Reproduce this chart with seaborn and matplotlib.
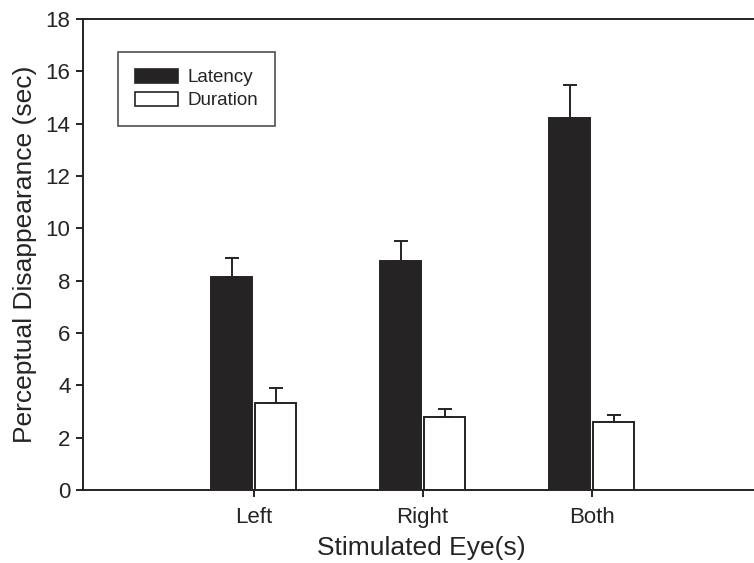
import numpy as np
import pandas as pd
import matplotlib
matplotlib.use("Agg")
import matplotlib.pyplot as plt
import seaborn as sns

# Mean perceptual disappearance times (sec) and their upper error bars
categories = ["Left", "Right", "Both"]
measures = ["Latency", "Duration"]
latency_mean = [8.14, 8.75, 14.21]
latency_err = [0.73, 0.78, 1.28]
duration_mean = [3.34, 2.80, 2.61]
duration_err = [0.55, 0.28, 0.26]

df = pd.DataFrame({
    "eye": categories * 2,
    "measure": ["Latency"] * 3 + ["Duration"] * 3,
    "value": latency_mean + duration_mean,
})
errors = {"Latency": latency_err, "Duration": duration_err}

sns.set_theme(style="ticks")
plt.rcParams["font.family"] = ["Liberation Sans", "DejaVu Sans"]

ink = "#262324"
fig = plt.figure(figsize=(7.54, 5.63), dpi=100)
ax = fig.add_axes([0.110, 0.1297, 0.8966, 0.8366])

sns.barplot(
    data=df, x="eye", y="value", hue="measure", order=categories,
    hue_order=measures, palette={"Latency": ink, "Duration": "white"},
    width=0.52, gap=0.08, edgecolor=ink, linewidth=1.4, ax=ax,
    errorbar=None, legend=False, saturation=1,
)

# one-sided error bars on top of each bar
for container, m in zip(ax.containers, measures):
    xs = [p.get_x() + p.get_width() / 2 for p in container]
    hs = [p.get_height() for p in container]
    err = errors[m]
    ax.errorbar(xs, hs, yerr=[np.zeros(len(err)), err], fmt="none",
                ecolor=ink, elinewidth=1.4, capsize=4.7, capthick=1.4,
                zorder=1)

ax.set_xlim(-1.01, 2.99)
ax.set_ylim(0, 18)
ax.set_yticks(np.arange(0, 19, 2))
ax.set_xlabel("Stimulated Eye(s)", fontsize=19, color=ink, labelpad=6)
ax.set_ylabel("Perceptual Disappearance (sec)", fontsize=19, color=ink, labelpad=6)
ax.tick_params(axis="both", labelsize=16, colors=ink, width=1.4, length=5,
               direction="out", pad=4)
ax.tick_params(axis="x", pad=7)
for s in ax.spines.values():
    s.set_color(ink)
    s.set_linewidth(1.4)

handles = [plt.Rectangle((0, 0), 1, 1, facecolor=ink, edgecolor=ink, lw=1.2),
           plt.Rectangle((0, 0), 1, 1, facecolor="white", edgecolor=ink, lw=1.2)]
leg = ax.legend(handles, measures, loc="upper left", bbox_to_anchor=(0.052, 0.930),
                borderaxespad=0, fontsize=13.5, frameon=True, fancybox=False,
                handlelength=2.3, handleheight=0.75, borderpad=0.9,
                labelspacing=0.3, handletextpad=0.5)
leg.get_frame().set_edgecolor(ink)
leg.get_frame().set_linewidth(1.2)
for t in leg.get_texts():
    t.set_color(ink)

fig.savefig("out.png", dpi=100, facecolor="white")
